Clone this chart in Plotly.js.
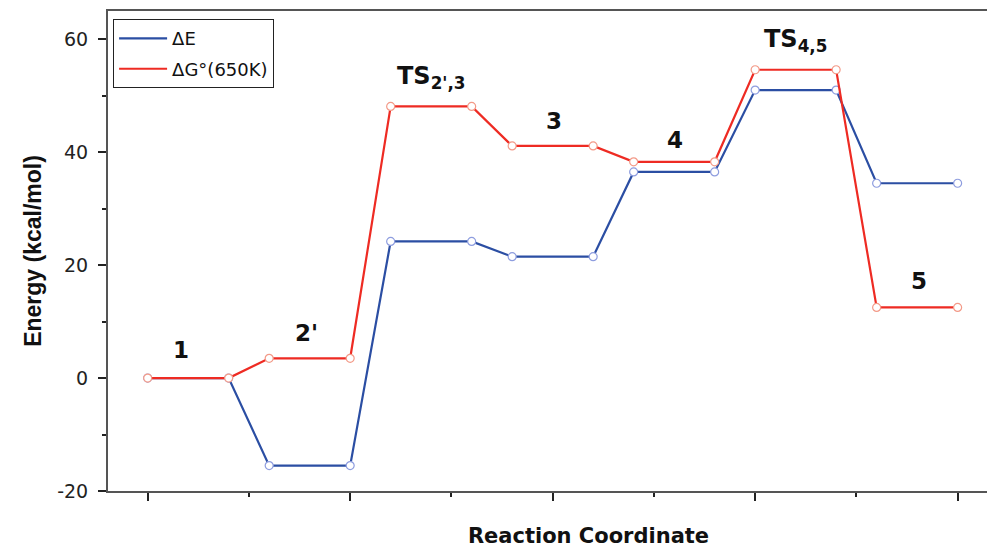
<!DOCTYPE html>
<html>
<head>
<meta charset="utf-8">
<script src="https://cdn.plot.ly/plotly-3.0.1.min.js"></script>
<style>
html, body { margin: 0; padding: 0; background: #fff; overflow: hidden; }
#chart { width: 1069px; height: 548px; }
</style>
</head>
<body>
<div id="chart"></div>
<script>
// Reaction coordinate positions (two points per state plateau)
const reactionCoord = [0, 2, 3, 5, 6, 8, 9, 11, 12, 14, 15, 17, 18, 20];
// ΔE (kcal/mol)
const deltaE = [0, 0, -15.5, -15.5, 24.2, 24.2, 21.5, 21.5, 36.5, 36.5, 51.0, 51.0, 34.5, 34.5];
// ΔG°(650K) (kcal/mol)
const deltaG = [0, 0, 3.5, 3.5, 48.1, 48.1, 41.1, 41.1, 38.3, 38.3, 54.6, 54.6, 12.5, 12.5];

// State labels and their positions (data coordinates)
const stateLabels = ["1", "2'", "TS<sub>2',3</sub>", "3", "4", "TS<sub>4,5</sub>", "5"];
const labelX = [0.82, 3.93, 7.02, 10.03, 13.02, 15.99, 19.04];
const labelY = [4.9, 7.9, 53.2, 45.5, 42.1, 59.7, 17.1];

const seriesNames = ["ΔE", "ΔG°(650K)"];
const yTicks = [-20, 0, 20, 40, 60];
const yTickText = ["-20", "0", "20", "40", "60"];
const xTicks = [0, 5, 10, 15, 20];
const xMinorTicks = [2.5, 7.5, 12.5, 17.5, 22.5];

const blue = '#2b4ea3';
const red = '#ee2b23';

const traces = [
  {
    x: reactionCoord, y: deltaE, mode: 'lines+markers', showlegend: false,
    line: {color: blue, width: 2.2},
    marker: {symbol: 'circle', size: 8, color: '#ffffff', line: {color: '#8e9ddf', width: 1.2}},
    hoverinfo: 'x+y'
  },
  {
    x: reactionCoord, y: deltaG, mode: 'lines+markers', showlegend: false,
    line: {color: red, width: 2.2},
    marker: {symbol: 'circle', size: 8, color: '#ffffff', line: {color: '#f39a88', width: 1.2}},
    hoverinfo: 'x+y'
  },
  // legend entries (lines only, as in the reference)
  { x: [null], y: [null], mode: 'lines', name: seriesNames[0], legendgroup: 'a',
    line: {color: blue, width: 2.2} },
  { x: [null], y: [null], mode: 'lines', name: seriesNames[1], legendgroup: 'b',
    line: {color: red, width: 2.2} }
];

const annotations = stateLabels.map((t, i) => ({
  x: labelX[i], y: labelY[i], xref: 'x', yref: 'y',
  text: '<b>' + t + '</b>', showarrow: false,
  xanchor: 'center', yanchor: 'middle',
  font: {family: 'DejaVu Sans, Arial, sans-serif', size: t.startsWith('TS') ? 24 : 23, color: '#111'}
}));

const layout = {
  width: 1069, height: 548,
  margin: {l: 108, r: 0, t: 11, b: 57, pad: 0},
  paper_bgcolor: '#ffffff', plot_bgcolor: '#ffffff',
  showlegend: true,
  legend: {
    x: 0.0053, y: 0.983, xanchor: 'left', yanchor: 'top',
    bordercolor: '#222', borderwidth: 1, bgcolor: '#ffffff',
    font: {family: 'DejaVu Sans, Arial, sans-serif', size: 18, color: '#111'},
    tracegroupgap: 4, itemwidth: 48
  },
  xaxis: {
    range: [-0.98, 22.75],
    showline: true, linecolor: '#555', linewidth: 2, mirror: true,
    showgrid: false, zeroline: false,
    tickmode: 'array', tickvals: xTicks, showticklabels: false,
    ticks: 'outside', ticklen: 8, tickwidth: 2, tickcolor: '#222',
    minor: {tickmode: 'array', tickvals: xMinorTicks, ticks: 'outside', ticklen: 4, tickwidth: 2, tickcolor: '#222', showgrid: false},
    title: {text: '<b>Reaction Coordinate</b>', standoff: 32,
            font: {family: 'DejaVu Sans, Arial, sans-serif', size: 21, color: '#111'}}
  },
  yaxis: {
    range: [-20, 65],
    showline: true, linecolor: '#555', linewidth: 2, mirror: false,
    showgrid: false, zeroline: false,
    tickmode: 'array', tickvals: yTicks, ticktext: yTickText,
    ticks: 'outside', ticklen: 8, tickwidth: 2, tickcolor: '#222',
    ticklabelstandoff: 6,
    tickfont: {family: 'DejaVu Sans, Arial, sans-serif', size: 19, color: '#222'},
    minor: {dtick: 10, ticks: 'outside', ticklen: 4, tickwidth: 2, tickcolor: '#222', showgrid: false},
    title: {text: '<b>Energy (kcal/mol)</b>', standoff: 9,
            font: {family: 'Liberation Sans, Arial, sans-serif', size: 23, color: '#111'}}
  },
  annotations: annotations
};

Plotly.newPlot('chart', traces, layout, {displayModeBar: false, staticPlot: true});
</script>
</body>
</html>
